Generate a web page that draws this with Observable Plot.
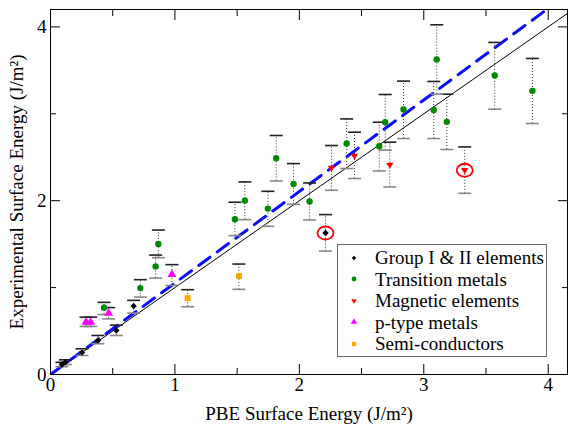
<!DOCTYPE html>
<html>
<head>
<meta charset="utf-8">
<script src="https://cdn.jsdelivr.net/npm/d3@7"></script>
<script src="https://cdn.jsdelivr.net/npm/@observablehq/plot@0.6"></script>
<style>
  html, body { margin: 0; padding: 0; background: #fff; }
  #wrap { position: relative; width: 569px; height: 424px; font-family: "Liberation Serif", "Times New Roman", serif; }
  #legend { position: absolute; left: 337px; top: 244px; width: 208px; height: 109px; border: 1.5px solid #666; background: #fff; padding-top: 2px; box-sizing: content-box; }
  .row { height: 21.5px; line-height: 21.5px; font-size: 19px; white-space: nowrap; position: relative; }
  .row svg { position: absolute; left: 11px; top: 5.75px; }
  .row span { position: absolute; left: 37px; }
</style>
</head>
<body>
<div id="wrap"></div>
<script>
// ---- data: [PBE, experimental, error-bar low, error-bar high] ----
const groupIandII = [
  [0.092, 0.115, 0.090, 0.140],
  [0.120, 0.142, 0.115, 0.169],
  [0.253, 0.253, 0.219, 0.296],
  [0.381, 0.392, 0.354, 0.449],
  [0.529, 0.507, 0.449, 0.568],
  [0.668, 0.787, 0.706, 0.853],
  [2.210, 1.628, 1.420, 1.840]
];
const transitionMetals = [
  [0.430, 0.768, 0.690, 0.830],
  [0.722, 0.994, 0.891, 1.091],
  [0.845, 1.244, 1.110, 1.374],
  [0.867, 1.501, 1.344, 1.662],
  [1.482, 1.786, 1.598, 1.982],
  [1.562, 2.001, 1.782, 2.216],
  [1.747, 1.909, 1.705, 2.108],
  [1.814, 2.488, 2.227, 2.750],
  [1.953, 2.192, 1.959, 2.427],
  [2.082, 1.990, 1.778, 2.204],
  [2.380, 2.658, 2.370, 2.941],
  [2.642, 2.627, 2.342, 2.903],
  [2.690, 2.903, 2.581, 3.222],
  [2.837, 3.050, 2.715, 3.376],
  [3.080, 3.045, 2.715, 3.372],
  [3.104, 3.626, 3.226, 4.024],
  [3.185, 2.907, 2.589, 3.226],
  [3.570, 3.441, 3.053, 3.821],
  [3.873, 3.264, 2.888, 3.637]
];
const magneticElements = [
  [2.258, 2.377, 2.120, 2.635],
  [2.443, 2.515, 2.255, 2.788],
  [2.727, 2.411, 2.158, 2.673],
  [3.329, 2.350, 2.085, 2.619]
];
const pTypeMetals = [
  [0.285, 0.603, 0.553, 0.660],
  [0.323, 0.603, 0.553, 0.660],
  [0.467, 0.706, 0.640, 0.770],
  [0.976, 1.152, 1.025, 1.264]
];
const semiConductors = [
  [1.102, 0.879, 0.780, 0.976],
  [1.514, 1.132, 0.980, 1.271]
];
// points highlighted with a red ring: [series key, row index]
const circledPoints = [["group", 6], ["magnetic", 3]];
const fitSlope = 1.053;          // blue dashed fit  y = a·x
const xDomain = [0, 4.155];
const yDomain = [0, 4.2];
const xTicks = [0, 1, 2, 3, 4];
const xMinorTicks = [0.5, 1.5, 2.5, 3.5];
const yTicks = [0, 2, 4];
const yMinorTicks = [1, 3];

const serif = "'Liberation Serif', 'Times New Roman', serif";

// ---- symbols ----
const triDown = { draw(ctx, size) { const r = Math.sqrt(size / Math.PI); const h = r * 1.15;
  ctx.moveTo(-h, -h * 0.62); ctx.lineTo(h, -h * 0.62); ctx.lineTo(0, h * 1.05); ctx.closePath(); } };
const capSym = { draw(ctx) { ctx.moveTo(-6.5, 0); ctx.lineTo(6.5, 0); } };
const ringSym = { draw(ctx) { const rx = 8, ry = 6.5, k = 0.5523;
  ctx.moveTo(rx, 0);
  ctx.bezierCurveTo(rx, ry * k, rx * k, ry, 0, ry);
  ctx.bezierCurveTo(-rx * k, ry, -rx, ry * k, -rx, 0);
  ctx.bezierCurveTo(-rx, -ry * k, -rx * k, -ry, 0, -ry);
  ctx.bezierCurveTo(rx * k, -ry, rx, -ry * k, rx, 0);
  ctx.closePath(); } };

const series = [
  { key: "group", name: "Group I & II elements", rows: groupIandII, color: "#000000", symbol: "diamond2", r: 2.9, lr: 2.0 },
  { key: "transition", name: "Transition metals", rows: transitionMetals, color: "#008a00", symbol: "circle", r: 3.2, lr: 2.4 },
  { key: "magnetic", name: "Magnetic elements", rows: magneticElements, color: "#ff0000", symbol: triDown, r: 3.2, lr: 2.4 },
  { key: "ptype", name: "p-type metals", rows: pTypeMetals, color: "#ff00ff", symbol: "triangle", r: 3.3, lr: 2.4 },
  { key: "semi", name: "Semi-conductors", rows: semiConductors, color: "#ffa500", symbol: "square", r: 3.4, lr: 2.4 }
];

const toObj = ([x, y, lo, hi]) => ({ x, y, lo, hi });
const marks = [];
const font = { fontFamily: serif, fontSize: 19 };

// reference lines
marks.push(Plot.line(xDomain.map(x => ({ x, y: x })), { x: "x", y: "y", stroke: "#000", strokeWidth: 1, clip: true }));
marks.push(Plot.line(xDomain.map(x => ({ x, y: fitSlope * x })), { x: "x", y: "y", stroke: "#0a0aff", strokeWidth: 3, strokeDasharray: "14,9", clip: true }));

for (const s of series) {
  const rows = s.rows.map(toObj);
  marks.push(Plot.ruleX(rows, { x: "x", y1: "lo", y2: "hi", stroke: "#333", strokeWidth: 1, strokeDasharray: "1,2" }));
  marks.push(Plot.dot(rows, { x: "x", y: "hi", symbol: capSym, fill: "none", stroke: "#222", strokeWidth: 1.6 }));
  marks.push(Plot.dot(rows, { x: "x", y: "lo", symbol: capSym, fill: "none", stroke: "#888", strokeWidth: 1.6 }));
}
for (const s of series) {
  const rows = s.rows.map(toObj);
  marks.push(Plot.dot(rows, { x: "x", y: "y", symbol: s.symbol, r: s.r, fill: s.color, stroke: "none" }));
}
const ringRows = circledPoints.map(([k, i]) => toObj(series.find(s => s.key === k).rows[i]));
marks.push(Plot.dot(ringRows, { x: "x", y: "y", symbol: ringSym, fill: "none", stroke: "#ff0000", strokeWidth: 1.8 }));

// frame + inward ticks on all four sides
marks.push(Plot.frame({ stroke: "#000", strokeWidth: 1 }));
for (const anchor of ["bottom", "top"]) {
  marks.push(Plot.axisX(xTicks, { anchor, tickSize: -10, fill: "none", stroke: "#000", label: null }));
  marks.push(Plot.axisX(xMinorTicks, { anchor, tickSize: -6, fill: "none", stroke: "#000", label: null }));
}
for (const anchor of ["left", "right"]) {
  marks.push(Plot.axisY(yTicks, { anchor, tickSize: -10, fill: "none", stroke: "#000", label: null }));
  marks.push(Plot.axisY(yMinorTicks, { anchor, tickSize: -6, fill: "none", stroke: "#000", label: null }));
}
marks.push(Plot.axisX(xTicks, { anchor: "bottom", tickSize: 0, tickPadding: 3, ...font, fill: "#000",
  tickFormat: d => String(d), label: "PBE Surface Energy (J/m²)", labelAnchor: "center", labelArrow: false, labelOffset: 45 }));
marks.push(Plot.axisY(yTicks, { anchor: "left", tickSize: 0, tickPadding: 4, ...font, fill: "#000",
  tickFormat: d => String(d), label: "Experimental Surface Energy (J/m²)", labelAnchor: "center", labelArrow: false, labelOffset: 41 }));

const chart = Plot.plot({
  width: 569,
  height: 424,
  marginLeft: 50,
  marginRight: 2,
  marginTop: 9,
  marginBottom: 50,
  style: `font-family: ${serif}; font-size: 19px; background: #fff; color: #000; overflow: visible;`,
  x: { domain: xDomain },
  y: { domain: yDomain },
  marks
});
const wrap = document.getElementById("wrap");
wrap.appendChild(chart);

// legend (inside the frame, as in the reference)
const legend = document.createElement("div");
legend.id = "legend";
for (const s of series) {
  const row = document.createElement("div");
  row.className = "row";
  const d3sym = typeof s.symbol === "string"
    ? { circle: d3.symbolCircle, diamond2: d3.symbolDiamond2, triangle: d3.symbolTriangle, square: d3.symbolSquare }[s.symbol]
    : s.symbol;
  const path = d3.symbol(d3sym, s.lr * s.lr * Math.PI)();
  row.innerHTML = `<svg width="10" height="10" viewBox="-5 -5 10 10"><path d="${path}" fill="${s.color}"/></svg><span>${s.name.replace("&", "&amp;")}</span>`;
  legend.appendChild(row);
}
wrap.appendChild(legend);
</script>
</body>
</html>
